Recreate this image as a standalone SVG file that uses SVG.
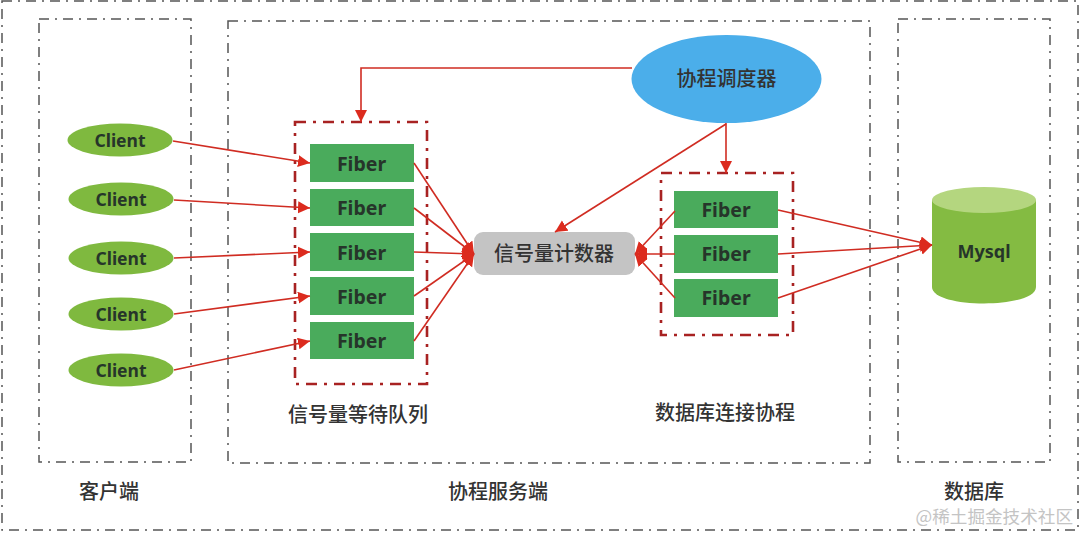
<svg xmlns="http://www.w3.org/2000/svg" width="1080" height="533" viewBox="0 0 1080 533">
<defs>
<marker id="arr" markerUnits="userSpaceOnUse" markerWidth="14" markerHeight="14" refX="12" refY="6" orient="auto"><path d="M0 0L12 6L0 12Z" fill="#dc2b1e"/></marker>
</defs>
<style>
.zone{fill:none;stroke:#555;stroke-width:1.5;stroke-dasharray:10 6 2 6}
.red{fill:none;stroke:#a82222;stroke-width:2.600;stroke-dasharray:11 7 3 7}
.f{fill:#4aab5c}
.c{fill:#7fb93f}
.lbl{font-family:"Noto Sans","Open Sans",sans-serif;font-weight:700;font-size:19.500px;fill:#26352a;text-anchor:middle}
.sm{font-size:17.500px}
.cn{font-family:"Noto Sans CJK SC",sans-serif;font-size:20px;font-weight:500;fill:#333;text-anchor:middle}
.ln{fill:none;stroke:#d02c22;stroke-width:1.600}
.a{marker-end:url(#arr)}
</style>
<rect width="1080" height="533" fill="#fff"/>
<g id="zones">
<rect class="zone" x="2" y="1" width="1076" height="529"/>
<rect class="zone" x="39" y="19" width="152" height="443"/>
<rect class="zone" x="228" y="21" width="642" height="442"/>
<rect class="zone" x="898" y="19" width="152" height="443"/>
</g>
<g id="queue-box"><rect class="red" x="295" y="122" width="132" height="262"/></g>
<g id="conn-box"><rect class="red" x="661" y="173" width="132" height="162"/></g>
<g id="clients">
<g id="client1"><ellipse class="c" cx="120" cy="140" rx="52.500" ry="16.500"/><text class="lbl sm" x="120" y="146.500">Client</text></g>
<g id="client2"><ellipse class="c" cx="121" cy="199" rx="52.500" ry="16.500"/><text class="lbl sm" x="121" y="205.500">Client</text></g>
<g id="client3"><ellipse class="c" cx="121" cy="258" rx="52.500" ry="16.500"/><text class="lbl sm" x="121" y="264.500">Client</text></g>
<g id="client4"><ellipse class="c" cx="121" cy="314" rx="52.500" ry="16.500"/><text class="lbl sm" x="121" y="320.500">Client</text></g>
<g id="client5"><ellipse class="c" cx="121" cy="370" rx="52.500" ry="16.500"/><text class="lbl sm" x="121" y="376.500">Client</text></g>
</g>
<g id="queue-fibers">
<g id="qf1"><rect class="f" x="310" y="144" width="104" height="38"/><text class="lbl" x="361.500" y="171">Fiber</text></g>
<g id="qf2"><rect class="f" x="310" y="189" width="104" height="37"/><text class="lbl" x="361.500" y="215">Fiber</text></g>
<g id="qf3"><rect class="f" x="310" y="233" width="104" height="38"/><text class="lbl" x="361.500" y="260">Fiber</text></g>
<g id="qf4"><rect class="f" x="310" y="277" width="104" height="38"/><text class="lbl" x="361.500" y="304">Fiber</text></g>
<g id="qf5"><rect class="f" x="310" y="322" width="104" height="37"/><text class="lbl" x="361.500" y="348">Fiber</text></g>
</g>
<g id="conn-fibers">
<g id="cf1"><rect class="f" x="674" y="191" width="104" height="37"/><text class="lbl" x="726" y="217">Fiber</text></g>
<g id="cf2"><rect class="f" x="674" y="235" width="104" height="38"/><text class="lbl" x="726" y="261">Fiber</text></g>
<g id="cf3"><rect class="f" x="674" y="279" width="104" height="38"/><text class="lbl" x="726" y="305">Fiber</text></g>
</g>
<g id="scheduler"><ellipse cx="726.500" cy="79" rx="95" ry="44" fill="#4baeea"/><text class="cn" x="726.500" y="86">协程调度器</text></g>
<g id="counter"><rect x="474" y="232" width="161" height="43" rx="9" fill="#c4c4c4"/><text class="cn" x="554" y="261">信号量计数器</text></g>
<g id="mysql">
<path d="M932 200V287C932 309 1036 309 1036 287V200Z" fill="#84bb42"/>
<ellipse cx="984" cy="200" rx="52" ry="13" fill="#b4d67f"/>
<text class="lbl" style="font-size:18px" x="984" y="258">Mysql</text>
</g>
<g id="connectors">
<path class="ln a" d="M632 68H361V122"/>
<path class="ln a" d="M726 123V173"/>
<path class="ln a" d="M726 124L555 232"/>
<path class="ln a" d="M173 141L310 163"/>
<path class="ln a" d="M174 200L310 208"/>
<path class="ln a" d="M174 258L310 252"/>
<path class="ln a" d="M174 314L310 296"/>
<path class="ln a" d="M174 370L310 341"/>
<path class="ln a" d="M414 163L474 254"/>
<path class="ln a" d="M414 208L474 254"/>
<path class="ln a" d="M414 252L474 254"/>
<path class="ln a" d="M414 296L474 254"/>
<path class="ln a" d="M414 341L474 254"/>
<path class="ln a" d="M675 211L635 254"/>
<path class="ln a" d="M675 254H635"/>
<path class="ln a" d="M675 298L635 254"/>
<path class="ln a" d="M778 210L932 245"/>
<path class="ln a" d="M778 254L932 245"/>
<path class="ln a" d="M778 298L932 245"/>
</g>
<g id="labels">
<text class="cn" x="358" y="422">信号量等待队列</text>
<text class="cn" x="725" y="420">数据库连接协程</text>
<text class="cn" x="109" y="499">客户端</text>
<text class="cn" x="498" y="499">协程服务端</text>
<text class="cn" x="974" y="499">数据库</text>
<text x="1073" y="523" style="font-family:'Noto Sans CJK SC',sans-serif;font-size:17.600px;fill:#c4c4c4;text-anchor:end">@稀土掘金技术社区</text>
</g>
</svg>
